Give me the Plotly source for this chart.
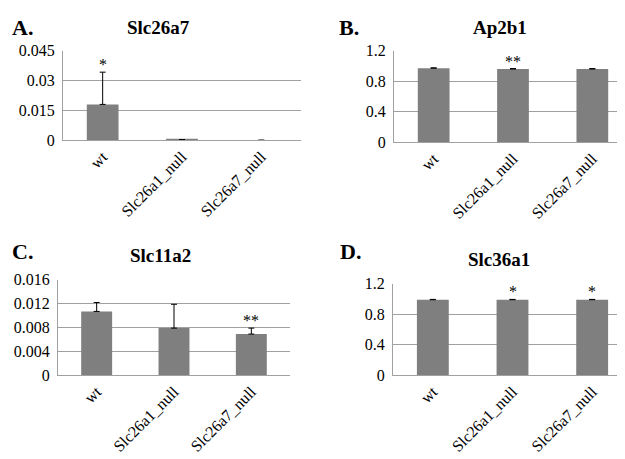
import plotly.graph_objects as go

categories = ["wt", "Slc26a1_null", "Slc26a7_null"]

panel_labels = ["A.", "B.", "C.", "D."]
titles = ["Slc26a7", "Ap2b1", "Slc11a2", "Slc36a1"]

vals_a = [0.018, 0.0003, 0.0]
err_a = [0.0162, 0.0, 0.0]
stars_a = ["*", "", ""]

vals_b = [0.97, 0.96, 0.96]
err_b = [0.005, 0.005, 0.005]
stars_b = ["", "**", ""]

vals_c = [0.0107, 0.0079, 0.0069]
err_c = [0.0015, 0.0040, 0.0010]
stars_c = ["", "", "**"]

vals_d = [0.99, 0.99, 0.99]
err_d = [0.004, 0.004, 0.004]
stars_d = ["", "*", "*"]

y_ranges = [[0, 0.045], [0, 1.2], [0, 0.016], [0, 1.2]]
y_tickvals = [[0, 0.015, 0.03, 0.045], [0, 0.4, 0.8, 1.2], [0, 0.004, 0.008, 0.012, 0.016], [0, 0.4, 0.8, 1.2]]
y_ticktext = [["0", "0.015", "0.03", "0.045"], ["0", "0.4", "0.8", "1.2"],
              ["0", "0.004", "0.008", "0.012", "0.016"], ["0", "0.4", "0.8", "1.2"]]

W, H = 625, 459
# plot area boxes in pixels: (left, right, top, bottom)
boxes = [(55, 293, 36, 129), (386, 624, 36, 131), (50, 282, 274, 373), (385, 624, 278, 373)]
title_pos = [(150, 12), (492, 12), (152, 249), (491, 253)]
label_pos = [(2, 12), (329, 12), (2, 245), (330, 245)]

FONT = "Liberation Serif"
fig = go.Figure()

series = [(vals_a, err_a, stars_a), (vals_b, err_b, stars_b), (vals_c, err_c, stars_c), (vals_d, err_d, stars_d)]

for i, (vals, errs, stars) in enumerate(series):
    n = i + 1
    xa = "x" if n == 1 else f"x{n}"
    ya = "y" if n == 1 else f"y{n}"
    fig.add_trace(go.Bar(
        x=categories, y=vals, width=0.4,
        marker=dict(color="#7f7f7f", line=dict(width=0)),
        error_y=dict(type="data", symmetric=False, array=errs, arrayminus=[0] * len(errs),
                     color="black", thickness=1, width=3),
        xaxis=xa, yaxis=ya, showlegend=False,
    ))
    l, r, t, b = boxes[i]
    xkey = "xaxis" if n == 1 else f"xaxis{n}"
    ykey = "yaxis" if n == 1 else f"yaxis{n}"
    fig.update_layout(**{
        xkey: dict(domain=[l / W, r / W], anchor=ya, tickangle=-45, showline=True,
                   linecolor="#a0a0a0", linewidth=1, ticks="", showgrid=False,
                   tickfont=dict(family=FONT, size=16, color="black"), fixedrange=True),
        ykey: dict(domain=[1 - b / H, 1 - t / H], anchor=xa, range=y_ranges[i],
                   tickmode="array", tickvals=y_tickvals[i], ticktext=y_ticktext[i],
                   showline=True, linecolor="#a0a0a0", linewidth=1,
                   showgrid=True, gridcolor="#a0a0a0", gridwidth=1, zeroline=False, ticks="",
                   tickfont=dict(family=FONT, size=16, color="black"), ticklabelstandoff=4),
    })
    for c, v, e, s in zip(categories, vals, errs, stars):
        if s:
            fig.add_annotation(x=c, y=v + e, xref=xa, yref=ya, text=s, showarrow=False,
                               yanchor="bottom", yshift=-3,
                               font=dict(family=FONT, size=16, color="black"))
    tx, ty = title_pos[i]
    fig.add_annotation(x=tx / W, y=1 - ty / H, xref="paper", yref="paper", text=f"<b>{titles[i]}</b>",
                       showarrow=False, xanchor="center", yanchor="middle",
                       font=dict(family=FONT, size=19, color="black"))
    lx, ly = label_pos[i]
    fig.add_annotation(x=lx / W, y=1 - ly / H, xref="paper", yref="paper", text=f"<b>{panel_labels[i]}</b>",
                       showarrow=False, xanchor="left", yanchor="middle",
                       font=dict(family=FONT, size=22, color="black"))

fig.update_layout(width=W, height=H, margin=dict(l=0, r=0, t=0, b=0),
                  paper_bgcolor="white", plot_bgcolor="white", bargap=0.6)

fig.write_html("out.html")
